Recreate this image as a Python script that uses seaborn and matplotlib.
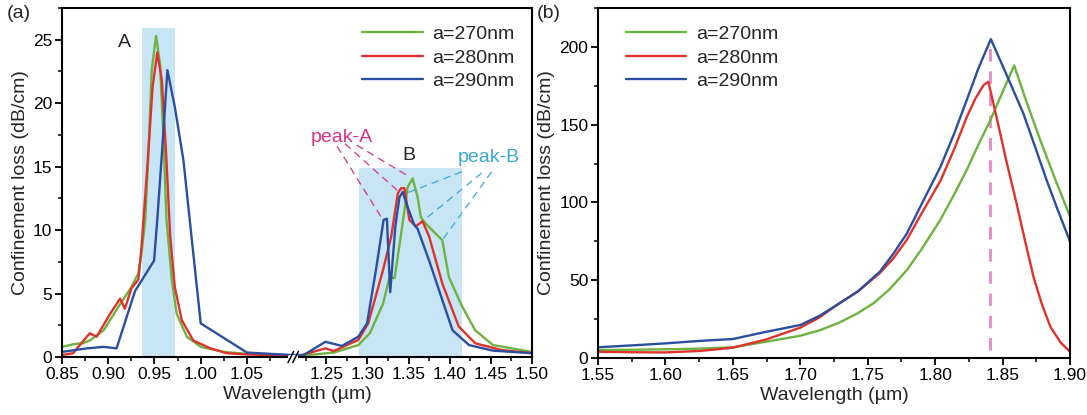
import numpy as np
import pandas as pd
import matplotlib.pyplot as plt
import seaborn as sns
from matplotlib.lines import Line2D
from matplotlib.ticker import FixedLocator, MultipleLocator

# Plot style
sns.set_theme(style='ticks')
plt.rcParams['font.family'] = ['Liberation Sans', 'DejaVu Sans']
plt.rcParams['font.size'] = 12.5
plt.rcParams['axes.linewidth'] = 1.5
plt.rcParams['axes.edgecolor'] = 'black'
plt.rcParams['xtick.color'] = 'black'
plt.rcParams['ytick.color'] = 'black'

labels = ['a=270nm', 'a=280nm', 'a=290nm']
colors = ['#6db33f', '#e0322c', '#2b4f9e']

# ---- panel (a) data ----
wl_a_270 = [0.85, 0.862, 0.873, 0.88, 0.895, 0.911, 0.925, 0.9326, 0.936, 0.940, 0.9435, 0.947,
            0.9517, 0.956, 0.9597, 0.963, 0.9687, 0.974, 0.985, 1.00, 1.025, 1.05, 1.10,
            1.22, 1.259, 1.289, 1.303, 1.319, 1.327, 1.333, 1.341, 1.349, 1.355, 1.361, 1.365,
            1.371, 1.391, 1.399, 1.415, 1.431, 1.4526, 1.50]
loss_a_270 = [0.8, 1.0, 1.1, 1.3, 2.1, 3.96, 5.5, 6.6, 8.2, 10.8, 16.1, 22.6,
              25.3, 23.1, 17.3, 10.8, 6.1, 3.4, 1.6, 0.8, 0.4, 0.25, 0.12,
              0.1, 0.35, 0.94, 1.87, 4.2, 6.3, 6.2, 9.7, 13.4, 14.07, 12.6, 11.0,
              10.5, 9.2, 6.3, 4.0, 2.1, 0.94, 0.4]

wl_a_280 = [0.85, 0.862, 0.880, 0.8875, 0.902, 0.9128, 0.918, 0.925, 0.9326, 0.936, 0.942, 0.948,
            0.953, 0.958, 0.9626, 0.967, 0.972, 0.9795, 0.992, 1.010, 1.028, 1.05, 1.10,
            1.22, 1.249, 1.259, 1.289, 1.301, 1.319, 1.329, 1.337, 1.341, 1.345, 1.351, 1.359,
            1.367, 1.375, 1.391, 1.411, 1.431, 1.463, 1.50]
loss_a_280 = [0.15, 0.3, 1.87, 1.6, 3.4, 4.6, 3.8, 5.4, 6.1, 8.7, 14.7, 21.3,
              24.0, 21.8, 16.0, 9.5, 5.5, 2.9, 1.3, 0.7, 0.3, 0.2, 0.1,
              0.15, 0.68, 0.47, 1.34, 2.65, 6.85, 9.5, 12.9, 13.3, 13.3, 10.8, 10.3,
              10.7, 9.5, 5.8, 2.4, 1.08, 0.55, 0.3]

wl_a_290 = [0.85, 0.877, 0.895, 0.909, 0.929, 0.9496, 0.953, 0.958, 0.964, 0.972, 0.9813, 0.990,
            1.0, 1.05, 1.10, 1.2227, 1.249, 1.269, 1.289, 1.2996, 1.311, 1.3197, 1.3237, 1.3277,
            1.334, 1.339, 1.343, 1.349, 1.357, 1.361, 1.375, 1.391, 1.4035, 1.4235, 1.4526, 1.50]
loss_a_290 = [0.4, 0.68, 0.8, 0.68, 5.2, 7.6, 10.8, 16.0, 22.6, 19.7, 15.5, 9.5,
              2.65, 0.35, 0.15, 0.16, 1.2, 0.87, 1.6, 2.65, 7.1, 10.8, 10.9, 5.1,
              10.3, 12.6, 13.0, 11.8, 10.4, 10.1, 7.6, 4.5, 2.1, 0.94, 0.5, 0.3]

xticks_a = [0.85, 0.90, 0.95, 1.00, 1.05, 1.25, 1.30, 1.35, 1.40, 1.45, 1.50]
xminor_a = [0.875, 0.925, 0.975, 1.025, 1.075, 1.225, 1.275, 1.325, 1.375, 1.425, 1.475]

# ---- panel (b) data ----
wl_b_270 = [1.55, 1.575, 1.60, 1.625, 1.65, 1.675, 1.70, 1.715, 1.7295, 1.742, 1.754, 1.766,
            1.779, 1.79, 1.804, 1.814, 1.8235, 1.832, 1.841, 1.85, 1.8586, 1.868, 1.878,
            1.889, 1.90]
loss_b_270 = [5.1, 5.3, 5.6, 6.0, 6.9, 10.5, 14.3, 18, 23, 28.5, 35, 44,
              56.5, 70, 89, 105, 121, 137, 153, 171, 188, 164, 140,
              115, 91]

wl_b_280 = [1.55, 1.575, 1.60, 1.625, 1.65, 1.675, 1.70, 1.714, 1.727, 1.743, 1.759, 1.769,
            1.779, 1.79, 1.804, 1.814, 1.8235, 1.83, 1.836, 1.8395, 1.846, 1.853, 1.861,
            1.867, 1.873, 1.879, 1.8855, 1.893, 1.90]
loss_b_280 = [4.0, 3.7, 3.6, 4.5, 6.6, 12, 19.5, 26, 34, 43, 54.6, 64,
              76, 93, 114, 134, 155, 167, 175.5, 177.6, 153, 126, 97,
              74, 52, 35, 20, 10, 4]

wl_b_290 = [1.55, 1.575, 1.60, 1.6257, 1.65, 1.675, 1.70, 1.714, 1.727, 1.743, 1.759, 1.769,
            1.779, 1.79, 1.804, 1.814, 1.8235, 1.832, 1.8413, 1.853, 1.8655, 1.874, 1.8828,
            1.891, 1.90]
loss_b_290 = [6.9, 8.1, 9.4, 11, 12.2, 16.9, 21.2, 27, 34, 43, 55.5, 67,
              80, 99, 123, 144, 166, 186, 205, 182, 157, 136, 114,
              95, 75]


def to_long(series):
    frames = []
    for lab, (wl, loss) in zip(labels, series):
        frames.append(pd.DataFrame({'Wavelength': wl, 'Loss': loss, 'Period': lab}))
    return pd.concat(frames, ignore_index=True)


df_a = to_long([(wl_a_270, loss_a_270), (wl_a_280, loss_a_280), (wl_a_290, loss_a_290)])
df_b = to_long([(wl_b_270, loss_b_270), (wl_b_280, loss_b_280), (wl_b_290, loss_b_290)])
palette = dict(zip(labels, colors))

fig = plt.figure(figsize=(10.87, 4.15), dpi=100)
ax_a = fig.add_axes([62 / 1087, 58 / 415, 470 / 1087, 349 / 415])
ax_b = fig.add_axes([598 / 1087, 57 / 415, 472 / 1087, 350 / 415])

# broken x axis for panel (a): 1.10 -> 1.21 is squeezed out
brk_x = [0.0, 1.10, 1.21, 3.0]
brk_u = [0.0, 1.10, 1.1001, 1.1001 + (3.0 - 1.21) * 0.89]


def fwd(x):
    return np.interp(x, brk_x, brk_u)


def inv(u):
    return np.interp(u, brk_u, brk_x)


ax_a.set_xscale('function', functions=(fwd, inv))

# shaded regions A and B
shade = '#c8e5f6'
ax_a.fill_between([0.936, 0.972], 0, 25.9, color=shade, lw=0, zorder=0)
ax_a.fill_between([1.29, 1.415], 0, 14.9, color=shade, lw=0, zorder=0)

sns.lineplot(data=df_a, x='Wavelength', y='Loss', hue='Period', palette=palette,
             estimator=None, sort=False, lw=1.7, legend=False, ax=ax_a)
sns.lineplot(data=df_b, x='Wavelength', y='Loss', hue='Period', palette=palette,
             estimator=None, sort=False, lw=1.7, legend=False, ax=ax_b)

ax_a.set_xlim(0.85, 1.50)
ax_a.set_ylim(0, 27.5)
ax_a.xaxis.set_major_locator(FixedLocator(xticks_a))
ax_a.xaxis.set_minor_locator(FixedLocator(xminor_a))
ax_a.set_xticklabels([f'{t:.2f}' for t in xticks_a])
ax_a.yaxis.set_major_locator(MultipleLocator(5))
ax_a.yaxis.set_minor_locator(MultipleLocator(2.5))

ax_b.set_xlim(1.55, 1.90)
ax_b.set_ylim(0, 225)
ax_b.xaxis.set_major_locator(MultipleLocator(0.05))
ax_b.xaxis.set_minor_locator(MultipleLocator(0.025))
ax_b.xaxis.set_major_formatter(plt.FormatStrFormatter('%.2f'))
ax_b.yaxis.set_major_locator(MultipleLocator(50))
ax_b.yaxis.set_minor_locator(MultipleLocator(25))

for ax in (ax_a, ax_b):
    ax.tick_params(which='major', length=5, width=1.3, labelsize=12.5, pad=2)
    ax.tick_params(which='minor', length=3, width=1.1)
    ax.set_xlabel('Wavelength (µm)', fontsize=14, labelpad=3)
    ax.set_ylabel('Confinement loss (dB/cm)', fontsize=14, labelpad=3)
    for sp in ax.spines.values():
        sp.set_linewidth(1.5)

# break marks on the bottom axis
b = (fwd(1.10) - fwd(0.85)) / (fwd(1.50) - fwd(0.85))
ax_a.plot([b - 0.006, b + 0.006], [0, 0], color='white', lw=3,
          transform=ax_a.transAxes, clip_on=False, zorder=5)
for dx in (-0.005, 0.005):
    ax_a.plot([b + dx - 0.006, b + dx + 0.006], [-0.016, 0.016], color='black', lw=1.1,
              transform=ax_a.transAxes, clip_on=False, zorder=6)

# region labels
ax_a.text(0.918, 24.8, 'A', fontsize=14, ha='center', va='center')
ax_a.text(1.35, 15.9, 'B', fontsize=14, ha='center', va='center')

# peak annotations
pa_col = '#d4348c'
pb_col = '#3aa9d4'
ax_a.text(1.269, 17.3, 'peak-A', color=pa_col, fontsize=14, ha='center', va='center')
ax_a.text(1.447, 15.7, 'peak-B', color=pb_col, fontsize=14, ha='center', va='center')
peak_a_lines = [((1.2632, 16.6), (1.3189, 10.8)),
                ((1.2728, 16.8), (1.3369, 13.1)),
                ((1.2869, 16.7), (1.351, 14.2))]
peak_b_lines = [((1.415, 14.6), (1.347, 12.9)),
                ((1.439, 14.5), (1.369, 10.8)),
                ((1.451, 14.6), (1.391, 9.2))]
for (x0, y0), (x1, y1) in peak_a_lines:
    ax_a.plot([x0, x1], [y0, y1], color=pa_col, lw=0.9, dashes=(6, 4), zorder=4)
for (x0, y0), (x1, y1) in peak_b_lines:
    ax_a.plot([x0, x1], [y0, y1], color=pb_col, lw=0.9, dashes=(6, 4), zorder=4)

# resonance marker in panel (b)
ax_b.plot([1.841, 1.841], [5, 205], color='#e58ac8', lw=2, dashes=(4.5, 3.5), zorder=1)

# legends
handles = [Line2D([], [], color=c, lw=1.7) for c in colors]
ax_a.legend(handles, labels, loc='upper right', frameon=False, fontsize=14,
            handlelength=3.1, handletextpad=0.5, labelspacing=0.3)
ax_b.legend(handles, labels, loc='upper left', bbox_to_anchor=(0.022, 1), frameon=False,
            fontsize=14, handlelength=3.1, handletextpad=0.5, labelspacing=0.3)

# panel labels
fig.text(7 / 1087, 1 - 14 / 415, '(a)', fontsize=14, va='center', ha='left')
fig.text(537 / 1087, 1 - 14 / 415, '(b)', fontsize=14, va='center', ha='left')

fig.savefig('out.png', dpi=100)
